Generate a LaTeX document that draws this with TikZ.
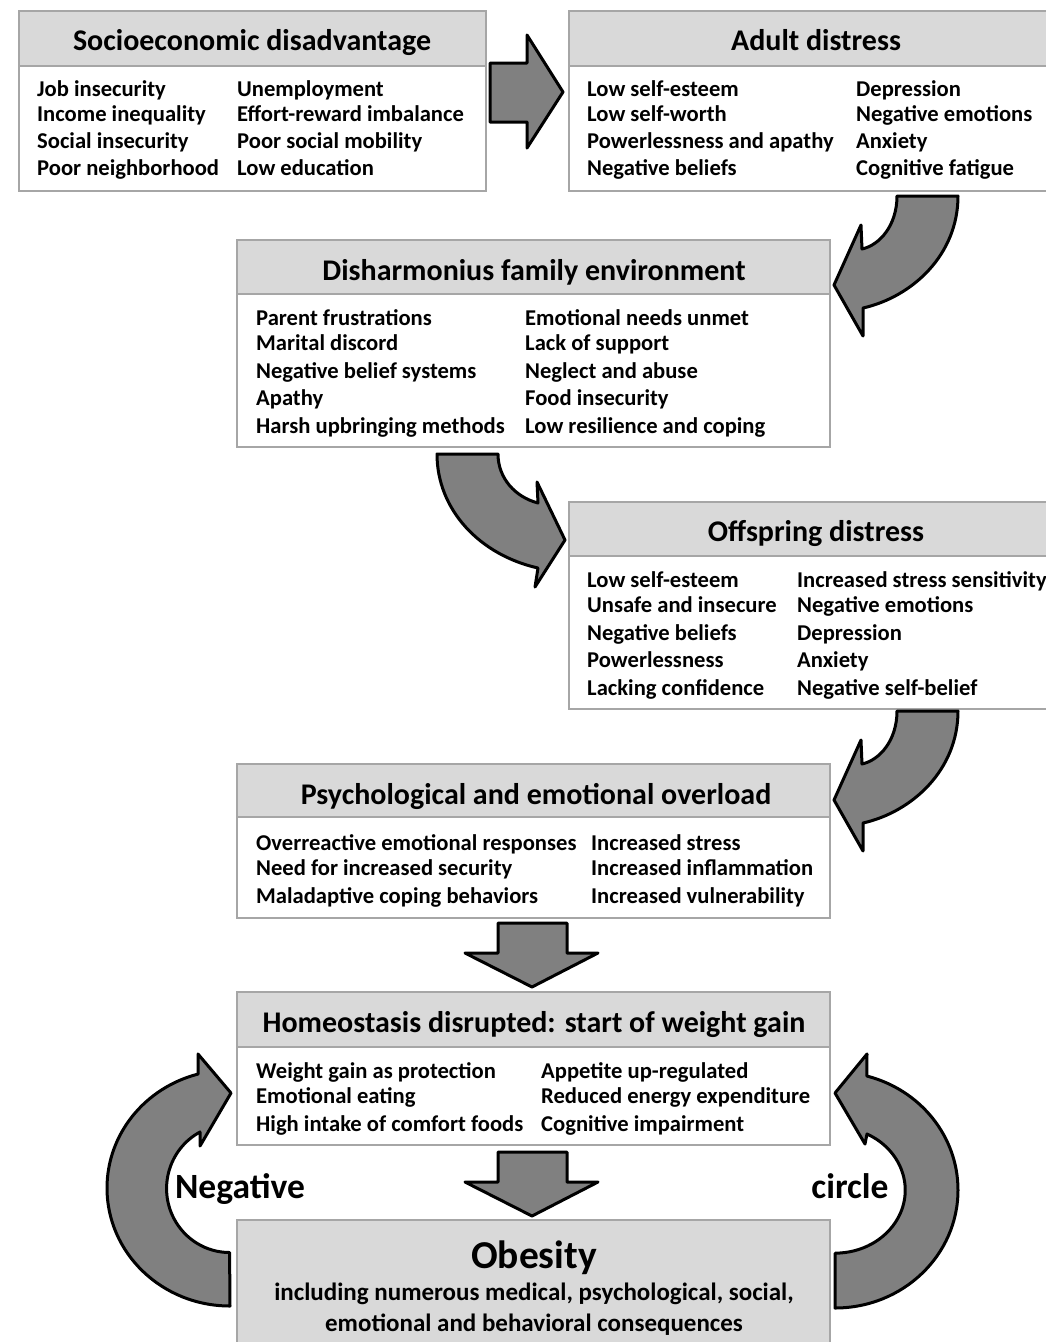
\documentclass[tikz,border=0pt]{standalone}
\usepackage{fontspec}
\setmainfont{Carlito}
\definecolor{boxgray}{HTML}{A6A6A6}
\definecolor{hdrgray}{HTML}{D9D9D9}
\definecolor{arrgray}{HTML}{808080}
\tikzset{
  frame/.style={draw=boxgray, line width=2pt, inner sep=0pt, outer sep=0pt, rectangle},
  hdr/.style={frame, fill=hdrgray},
  bodyb/.style={frame, fill=white},
  title/.style={anchor=base, inner sep=0pt, font=\fontsize{30}{34}\selectfont\bfseries},
  item/.style={anchor=base west, inner sep=0pt, font=\fontsize{22.6}{26}\selectfont\bfseries},
  bigtitle/.style={anchor=base, inner sep=0pt, font=\fontsize{39.5}{44}\selectfont\bfseries},
  subline/.style={anchor=base, inner sep=0pt, font=\fontsize{25}{29}\selectfont\bfseries},
  looplabel/.style={anchor=base, inner sep=0pt, font=\fontsize{35.5}{40}\selectfont\bfseries},
  blockarrow/.style={draw=black, fill=arrgray, line width=3pt, line join=round}
}
\newcommand{\mkbox}[6]{%
  \node[bodyb, minimum width={(#4-#2)*1pt}, minimum height={(#6-#5)*1pt}] (#1b) at ({(#2+#4)/2},{(#5+#6)/2}) {};
  \node[hdr, minimum width={(#4-#2)*1pt}, minimum height={(#5-#3)*1pt}] (#1h) at ({(#2+#4)/2},{(#3+#5)/2}) {};
}
\newcommand{\itemcol}[3]{%
  \foreach \yy/\tt [count=\ii] in {#3} {\node[item] (#1\ii) at (#2,\yy) {\tt};}
}
\begin{document}
\begin{tikzpicture}[x=1pt,y=-1pt]
\useasboundingbox (0,0) rectangle (1046,1342);
\clip (0,0) rectangle (1046,1342);
\fill[white] (0,0) rectangle (1046,1342);

% ---------- boxes ----------
\mkbox{s}{19}{11}{486}{66}{191}
\mkbox{a}{569}{11}{1063}{66}{191}
\mkbox{d}{237}{240}{830}{294}{447}
\mkbox{o}{569}{502}{1063}{556}{709}
\mkbox{p}{237}{764}{830}{817}{918}
\mkbox{h}{237}{992}{830}{1047}{1145}
\node[hdr, minimum width=593pt, minimum height=140pt] (ob) at (533.5,1290) {};

% ---------- titles ----------
\node[title] (st) at (252,50) {Socioeconomic disadvantage};
\node[title] (at) at (816,50) {Adult distress};
\node[title] (dt) at (534,280) {Disharmonius family environment};
\node[title] (ot) at (816,541) {Offspring distress};
\node[title] (pt) at (536,804) {Psychological and emotional overload};
\node[title] (ht) at (534,1032) {Homeostasis disrupted: start of weight gain};

% ---------- items ----------
\itemcol{sl}{37}{96/Job insecurity,121/Income inequality,148/Social insecurity,175/Poor neighborhood}
\itemcol{sr}{237}{96/Unemployment,121/Effort-reward imbalance,148/Poor social mobility,175/Low education}
\itemcol{al}{587}{96/Low self-esteem,121/Low self-worth,148/Powerlessness and apathy,175/Negative beliefs}
\itemcol{ar}{856}{96/Depression,121/Negative emotions,148/Anxiety,175/Cognitive fatigue}
\itemcol{dl}{256}{325/Parent frustrations,350/Marital discord,378/Negative belief systems,405/Apathy,433/Harsh upbringing methods}
\itemcol{dr}{525}{325/Emotional needs unmet,350/Lack of support,378/Neglect and abuse,405/Food insecurity,433/Low resilience and coping}
\itemcol{ol}{587}{587/Low self-esteem,612/Unsafe and insecure,640/Negative beliefs,667/Powerlessness,695/Lacking confidence}
\itemcol{or}{797}{587/Increased stress sensitivity,612/Negative emotions,640/Depression,667/Anxiety,695/Negative self-belief}
\itemcol{pl}{256}{850/Overreactive emotional responses,875/Need for increased security,903/Maladaptive coping behaviors}
\itemcol{pr}{591}{850/Increased stress,875/Increased inflammation,903/Increased vulnerability}
\itemcol{hl}{256}{1078/Weight gain as protection,1103/Emotional eating,1131/High intake of comfort foods}
\itemcol{hr}{541}{1078/Appetite up-regulated,1103/Reduced energy expenditure,1131/Cognitive impairment}

% ---------- obesity ----------
\node[bigtitle] (obt) at (534,1268) {Obesity};
\node[subline] (ob1) at (534,1300) {including numerous medical, psychological, social,};
\node[subline] (ob2) at (534,1331) {emotional and behavioral consequences};

% ---------- loop labels ----------
\node[looplabel] (neg) at (240,1198) {Negative};
\node[looplabel] (circ) at (850,1198) {circle};

% ---------- arrows ----------
% right block arrow
\draw[blockarrow] (490,63) -- (527,63) -- (527,35) -- (563,92) -- (527,148) -- (527,122) -- (490,122) -- cycle;
% curved arrows (down-left) from right boxes
\foreach \dy in {0,515} {
  \begin{scope}[shift={(0,\dy)}]
  \draw[blockarrow] (897,196) -- (958,196)
    .. controls (958,255) and (912,297) .. (863,308)
    -- (863,336) -- (834,285) -- (861,225) -- (862,249)
    .. controls (880,245) and (897,225) .. (897,196) -- cycle;
  \end{scope}
}
% curved arrow (down-right) from box 3 to box 4
\draw[blockarrow] (437,454) -- (498,454)
  .. controls (498,478) and (515,497) .. (538,503)
  -- (537,482) -- (565,540) -- (535,587) -- (538,568)
  .. controls (480,555) and (437,510) .. (437,454) -- cycle;
% down block arrows
\foreach \ty in {923,1152} {
  \draw[blockarrow] (498,\ty) -- (567,\ty) -- (567,\ty+30) -- (598,\ty+30)
    -- (532,\ty+64) -- (465,\ty+30) -- (498,\ty+30) -- cycle;
}
% left loop arrow
\draw[blockarrow] (230,1306) arc[start angle=90, end angle=255, x radius=123, y radius=118]
  -- (198,1054) -- (231,1093) -- (200,1146) -- (200,1132)
  arc[start angle=242, end angle=90, x radius=63, y radius=64] -- cycle;
% right loop arrow
\draw[blockarrow] (835,1308) arc[start angle=90, end angle=-75, x radius=123, y radius=118]
  -- (867,1054) -- (835,1093) -- (865,1144) -- (867,1134)
  arc[start angle=-63, end angle=90, x radius=70, y radius=63] -- cycle;
\end{tikzpicture}
\end{document}
